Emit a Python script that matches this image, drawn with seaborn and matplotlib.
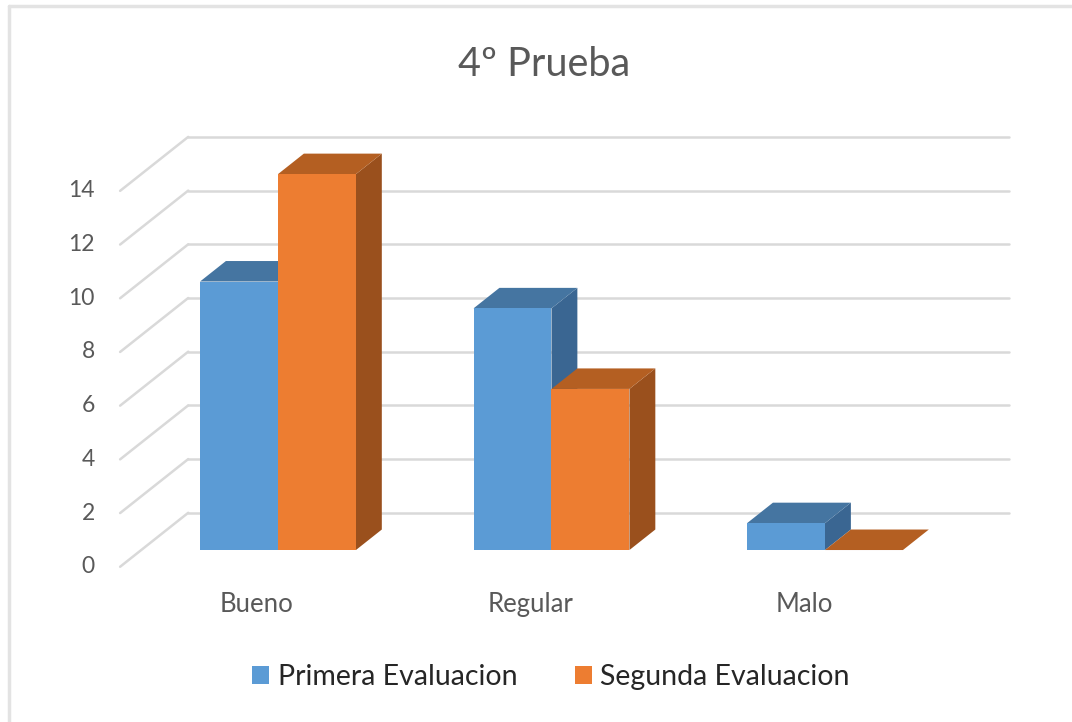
import pandas as pd
import matplotlib.pyplot as plt
import seaborn as sns
from matplotlib.patches import Polygon
from matplotlib.lines import Line2D

# data
categorias = ['Bueno', 'Regular', 'Malo']
primera = [10, 9, 1]
segunda = [14, 6, 0]
series = ['Primera Evaluacion', 'Segunda Evaluacion']
yticks = [0, 2, 4, 6, 8, 10, 12, 14]

df = pd.DataFrame({
    'categoria': categorias * 2,
    'evaluacion': [series[0]] * 3 + [series[1]] * 3,
    'valor': primera + segunda,
})

# colours (front, top, side)
blue = ['#5B9BD5', '#4575A1', '#3A6692']
orange = ['#ED7D31', '#B45F22', '#9A501D']
grid_col = '#D9D9D9'
text_col = '#595959'

sns.set_theme(style='white')
plt.rcParams['font.family'] = ['Lato', 'DejaVu Sans']

fig = plt.figure(figsize=(10.72, 7.22), dpi=100)
ax = fig.add_axes([0.0552, 0.1824, 0.9185, 0.6508])

sns.barplot(data=df, x='categoria', y='valor', hue='evaluacion',
            palette=[blue[0], orange[0]], width=0.57, saturation=1,
            linewidth=0, ax=ax)

ax.set_xlim(-0.8, 2.8)
ax.set_ylim(-1.5, 16)
ax.axis('off')

# fake depth: full floor depth and the part the bars use
Dx, Dy = 0.249, 2.01
f0, f1 = 0.31, 0.69
bdx, bdy = (f1 - f0) * Dx, (f1 - f0) * Dy

# back wall gridlines plus diagonal floor/wall lines
for v in yticks:
    xb, yb = -0.5 + f1 * Dx, v + f1 * Dy
    xf, yf = -0.5 - f0 * Dx, v - f0 * Dy
    ax.add_line(Line2D([xb, 2.5 + f1 * Dx], [yb, yb], color=grid_col,
                       lw=1.8, zorder=0, clip_on=False))
    ax.add_line(Line2D([xf, xb], [yf, yb], color=grid_col,
                       lw=1.8, zorder=0, clip_on=False))
    ax.text(xf - 0.092, yf, str(v), ha='right', va='center',
            fontsize=16.5, color=text_col)

for i, c in enumerate(categorias):
    ax.text(i - f0 * Dx, -f0 * Dy - 1.42, c, ha='center', va='center',
            fontsize=18.5, color=text_col)

# top and side faces for each bar
bars = []
for cont, cols in zip(ax.containers, [blue, orange]):
    for p in cont:
        bars.append((p, cols))
bars.sort(key=lambda b: b[0].get_x())
for k, (p, cols) in enumerate(bars):
    x0, w, h = p.get_x(), p.get_width(), p.get_height()
    top = Polygon([(x0, h), (x0 + w, h), (x0 + w + bdx, h + bdy),
                   (x0 + bdx, h + bdy)], closed=True, fc=cols[1], lw=0,
                  zorder=2 + 3 * k)
    side = Polygon([(x0 + w, 0), (x0 + w + bdx, bdy), (x0 + w + bdx, h + bdy),
                    (x0 + w, h)], closed=True, fc=cols[2], lw=0,
                   zorder=2 + 3 * k)
    ax.add_patch(side)
    ax.add_patch(top)
    p.set_zorder(3 + 3 * k)

sns.move_legend(ax, 'center', bbox_to_anchor=(0.514, 0.062),
                bbox_transform=fig.transFigure, ncol=2, frameon=False,
                title=None, fontsize=20.5, handlelength=0.6, handleheight=0.6,
                handletextpad=0.3, columnspacing=2.0)
for t in ax.get_legend().get_texts():
    t.set_color('#262626')

fig.text(0.5075, 0.91, '4º Prueba', ha='center', va='center',
         fontsize=28.5, color=text_col)

# light chart border (top and left visible)
fig.add_artist(Line2D([9 / 1072, 1.0], [1 - 6 / 722, 1 - 6 / 722],
                      transform=fig.transFigure, color='#E3E3E3', lw=2.5))
fig.add_artist(Line2D([9 / 1072, 9 / 1072], [0.0, 1 - 6 / 722],
                      transform=fig.transFigure, color='#E3E3E3', lw=2.5))

fig.savefig('out.png', dpi=100, facecolor='white')
